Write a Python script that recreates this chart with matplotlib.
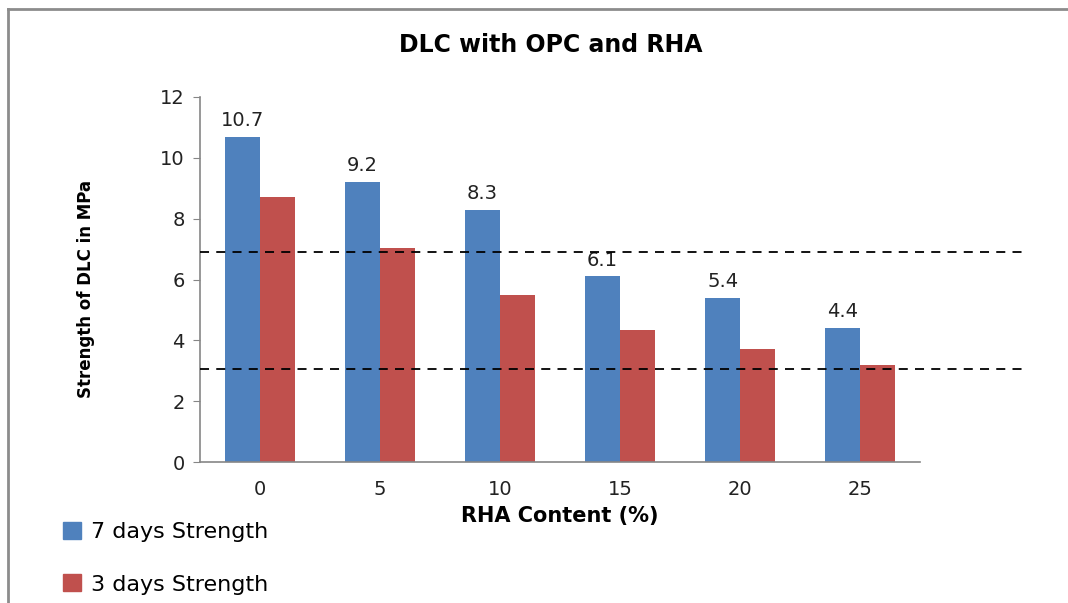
import numpy as np
import matplotlib
matplotlib.use("Agg")
import matplotlib.pyplot as plt
from matplotlib.patches import Patch

rha_content = ["0", "5", "10", "15", "20", "25"]
strength_7d = [10.7, 9.2, 8.3, 6.1, 5.4, 4.4]
strength_3d = [8.7, 7.05, 5.5, 4.35, 3.7, 3.2]
ref_levels = [6.9, 3.05]

BLUE = "#4f81bd"
RED = "#c0504d"

fig = plt.figure(figsize=(10.68, 6.03), dpi=100)
ax = fig.add_axes([200 / 1068, 1 - 462 / 603, 720 / 1068, 365 / 603])

x = np.arange(len(rha_content))
w = 0.29
ax.bar(x - w / 2, strength_7d, w, color=BLUE, label="7 days Strength", zorder=2)
ax.bar(x + w / 2, strength_3d, w, color=RED, label="3 days Strength", zorder=2)

for xi, v in zip(x, strength_7d):
    ax.text(xi - w / 2, v + 0.36, f"{v:.1f}", ha="center", va="baseline",
            fontsize=14, color="#222222")

# dashed reference lines run past the plot area to the right
ax.hlines(ref_levels, -0.5, 6.39, colors="black", linestyles=(0, (5, 4)),
          linewidth=1.3, clip_on=False, zorder=3)

ax.set_xlim(-0.5, 5.5)
ax.set_ylim(0, 12)
ax.set_yticks(range(0, 13, 2))
ax.set_xticks(x)
ax.set_xticklabels(rha_content)
ax.tick_params(axis="y", direction="out", length=5, color="#868686",
               labelsize=14, labelcolor="#222222", pad=6)
ax.tick_params(axis="x", length=0, labelsize=14, labelcolor="#222222", pad=13)
for s in ["top", "right"]:
    ax.spines[s].set_visible(False)
for s in ["left", "bottom"]:
    ax.spines[s].set_color("#868686")
    ax.spines[s].set_linewidth(1.2)

ax.set_xlabel("RHA Content (%)", fontsize=15, fontweight="bold", labelpad=5)
fig.text(86 / 1068, 1 - 289 / 603, "Strength of DLC in MPa", rotation=90,
         ha="center", va="center", fontsize=12, fontweight="bold",
         color="black")

fig.text(551 / 1068, 1 - 45 / 603, "DLC with OPC and RHA", ha="center",
         va="center", fontsize=17, fontweight="bold")

handles = [Patch(color=BLUE, label="7 days Strength"),
           Patch(color=RED, label="3 days Strength")]
fig.legend(handles=handles, loc="upper left",
           bbox_to_anchor=(43 / 1068, 1 - 502 / 603), frameon=False,
           fontsize=16, labelspacing=1.45, handlelength=0.8, handleheight=0.8,
           handletextpad=0.45)

# gray frame edges at top and left
fig.add_artist(plt.Line2D([8 / 1068, 1], [1 - 9 / 603, 1 - 9 / 603],
                          transform=fig.transFigure, color="#8c8c8c", lw=2))
fig.add_artist(plt.Line2D([8 / 1068, 8 / 1068], [0, 1 - 9 / 603],
                          transform=fig.transFigure, color="#8c8c8c", lw=2))

fig.savefig("out.png", dpi=100)
